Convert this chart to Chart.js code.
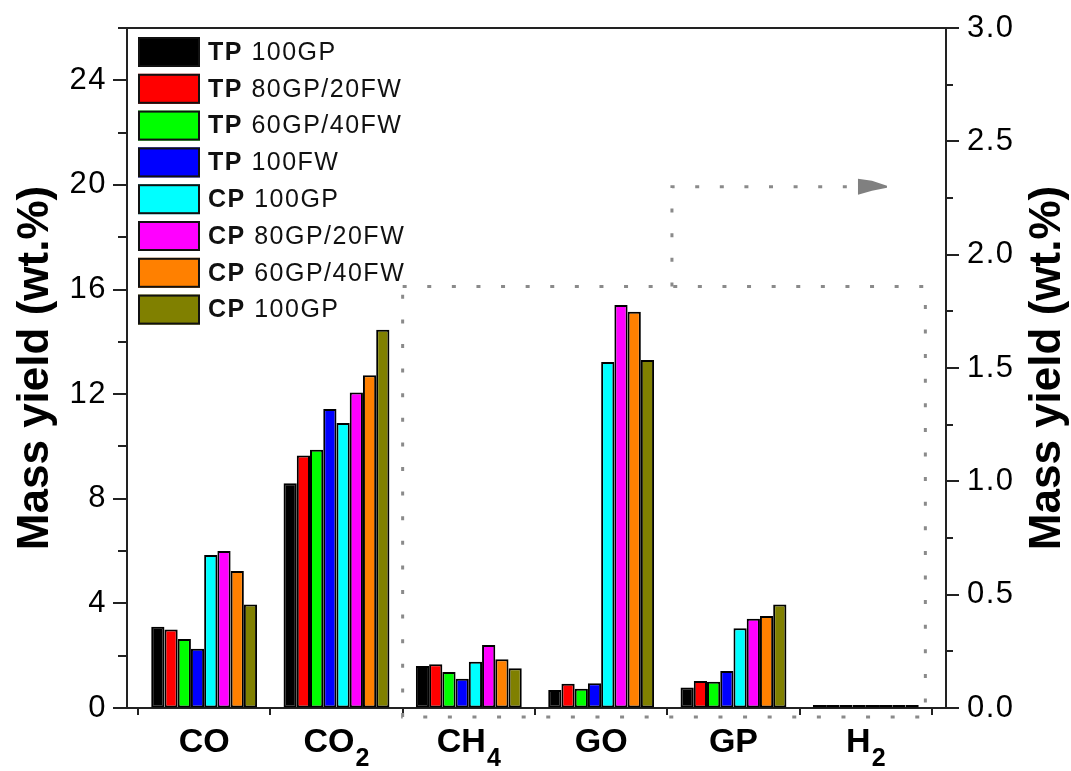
<!DOCTYPE html>
<html><head><meta charset="utf-8">
<script src="https://cdn.jsdelivr.net/npm/chart.js@4.4.1/dist/chart.umd.min.js"></script>
<style>html,body{margin:0;padding:0;background:#fff;}#wrap{width:1071px;height:771px;position:relative;}</style>
</head><body><div id="wrap"><canvas id="c"></canvas></div>
<script>
// ---- data ----
const categories = ['CO', 'CO₂', 'CH₄', 'GO', 'GP', 'H₂'];
const leftAxisCategories = [0, 1];          // plotted against left axis
const rightAxisCategories = [2, 3, 4, 5];   // plotted against right axis
const seriesPrefix = ['TP', 'TP', 'TP', 'TP', 'CP', 'CP', 'CP', 'CP'];
const seriesName = ['100GP', '80GP/20FW', '60GP/40FW', '100FW', '100GP', '80GP/20FW', '60GP/40FW', '100GP'];
const seriesColors = ['#000000', '#ff0000', '#00ff00', '#0000ff', '#00ffff', '#ff00ff', '#ff8000', '#808000'];
const CO  = [3.11, 3.00, 2.64, 2.27, 5.85, 6.00, 5.24, 3.96];
const CO2 = [8.59, 9.65, 9.87, 11.43, 10.90, 12.06, 12.72, 14.46];
const CH4 = [0.185, 0.193, 0.159, 0.129, 0.204, 0.278, 0.215, 0.175];
const GO  = [0.079, 0.107, 0.085, 0.109, 1.526, 1.778, 1.748, 1.535];
const GP  = [0.090, 0.119, 0.116, 0.163, 0.352, 0.394, 0.406, 0.457];
const H2  = [0.013, 0.013, 0.013, 0.013, 0.013, 0.013, 0.013, 0.013];
const leftTickLabels = ['0', '4', '8', '12', '16', '20', '24'];
const rightTickLabels = ['0.0', '0.5', '1.0', '1.5', '2.0', '2.5', '3.0'];
const axisTitle = 'Mass yield (wt.%)';
// annotation (dotted box + arrow), in data coordinates (x: category units, y: right axis)
const boxX = [1.5, 5.45];
const boxTop = 1.86;
const arrowX = 3.535, arrowY = 2.30, arrowTipX = 5.16;

const X_MIN = -0.583, X_MAX = 5.606;
const FONT = '"Liberation Sans", Arial, sans-serif';
const AX = '#222';
const SUB = { '₀': '0', '₁': '1', '₂': '2', '₃': '3', '₄': '4', '₅': '5', '₆': '6', '₇': '7', '₈': '8', '₉': '9' };

const valuesByCategory = [CO, CO2, CH4, GO, GP, H2];
const datasets = [];
function makeSet(i, cats, axis) {
  return {
    label: seriesPrefix[i] + ' ' + seriesName[i],
    yAxisID: axis,
    backgroundColor: seriesColors[i],
    data: categories.map((c, k) => ({ x: k, y: cats.includes(k) ? valuesByCategory[k][i] : null }))
  };
}
for (let i = 0; i < 8; i++) datasets.push(makeSet(i, leftAxisCategories, 'y'));
for (let i = 0; i < 8; i++) datasets.push(makeSet(i, rightAxisCategories, 'y1'));

function hline(ctx, x0, y0, x1, y1) { ctx.beginPath(); ctx.moveTo(x0, y0); ctx.lineTo(x1, y1); ctx.stroke(); }

function drawCategoryLabel(ctx, label, cx, baseY) {
  const runs = [];
  for (const ch of label) {
    const sub = SUB[ch] !== undefined;
    const c = sub ? SUB[ch] : ch;
    if (runs.length && runs[runs.length - 1].sub === sub) runs[runs.length - 1].t += c;
    else runs.push({ t: c, sub });
  }
  const fMain = 'bold 34px ' + FONT, fSub = 'bold 25px ' + FONT;
  let total = 0;
  runs.forEach(r => { ctx.font = r.sub ? fSub : fMain; r.w = ctx.measureText(r.t).width + (r.sub ? 1 : 0); total += r.w; });
  let xx = cx - total / 2;
  ctx.textAlign = 'left'; ctx.textBaseline = 'alphabetic'; ctx.fillStyle = '#000';
  runs.forEach(r => {
    ctx.font = r.sub ? fSub : fMain;
    ctx.fillText(r.t, xx + (r.sub ? 1 : 0), r.sub ? baseY + 14 : baseY);
    xx += r.w;
  });
}

const decor = {
  id: 'decor',
  beforeDraw(chart) { chart.ctx.letterSpacing = '1.5px'; },
  afterDraw(chart) {
    const ctx = chart.ctx, ca = chart.chartArea;
    const x = chart.scales.x, yL = chart.scales.y, yR = chart.scales.y1;
    ctx.save();
    ctx.letterSpacing = '0px';
    ctx.strokeStyle = AX; ctx.lineWidth = 2; ctx.setLineDash([]);
    hline(ctx, ca.left - 1, ca.top, ca.right + 1, ca.top);
    yL.ticks.forEach(t => {
      const p = Math.round(yL.getPixelForValue(t.value));
      const major = leftTickLabels.includes(String(t.value));
      hline(ctx, ca.left - (major ? 14 : 9), p, ca.left, p);
    });
    yR.ticks.forEach(t => {
      const p = Math.round(yR.getPixelForValue(t.value));
      const major = Math.abs(t.value * 2 - Math.round(t.value * 2)) < 1e-6 && rightTickLabels.includes(t.value.toFixed(1));
      hline(ctx, ca.right, p, ca.right + (major ? 13 : 7), p);
    });
    categories.forEach((c, i) => drawCategoryLabel(ctx, c, x.getPixelForValue(i), ca.bottom + 44));
    const bx0 = x.getPixelForValue(boxX[0]), bx1 = x.getPixelForValue(boxX[1]);
    const by0 = yR.getPixelForValue(boxTop), by1 = yR.getPixelForValue(0) + 9;
    ctx.strokeStyle = '#8a8a8a'; ctx.lineWidth = 3; ctx.setLineDash([4, 20.6]);
    ctx.strokeRect(bx0, by0, bx1 - bx0, by1 - by0);
    const ax = x.getPixelForValue(arrowX), ay = yR.getPixelForValue(arrowY), tip = x.getPixelForValue(arrowTipX);
    ctx.beginPath(); ctx.moveTo(ax, by0); ctx.lineTo(ax, ay); ctx.lineTo(tip - 32, ay); ctx.stroke();
    ctx.setLineDash([]);
    ctx.fillStyle = '#808080';
    ctx.beginPath();
    ctx.moveTo(tip - 29, ay - 8); ctx.lineTo(tip - 15, ay - 6); ctx.lineTo(tip, ay - 1);
    ctx.lineTo(tip, ay + 1); ctx.lineTo(tip - 15, ay + 4); ctx.lineTo(tip - 29, ay + 8); ctx.closePath(); ctx.fill();
    const lx = ca.left + 11, ly = ca.top + 9, bw = 62, bh = 30, step = 36.8;
    ctx.letterSpacing = '1.5px';
    ctx.textBaseline = 'middle'; ctx.textAlign = 'left';
    for (let i = 0; i < 8; i++) {
      const y0 = ly + i * step;
      ctx.fillStyle = seriesColors[i];
      ctx.fillRect(lx, y0, bw, bh);
      ctx.strokeStyle = '#111'; ctx.lineWidth = 2;
      ctx.strokeRect(lx + 1, y0 + 1, bw - 2, bh - 2);
      ctx.fillStyle = '#111';
      ctx.font = 'bold 25px ' + FONT;
      const tx = lx + bw + 8, ty = y0 + bh / 2 + 1;
      ctx.fillText(seriesPrefix[i], tx, ty);
      const w = ctx.measureText(seriesPrefix[i] + ' ').width;
      ctx.font = '25px ' + FONT;
      ctx.fillText(seriesName[i], tx + w, ty);
    }
    ctx.letterSpacing = '0px';
    ctx.font = 'bold 44px ' + FONT; ctx.fillStyle = '#000';
    ctx.textAlign = 'center'; ctx.textBaseline = 'middle';
    [36, 1048].forEach(cx => {
      ctx.save(); ctx.translate(cx, (ca.top + ca.bottom) / 2); ctx.rotate(-Math.PI / 2);
      ctx.fillText(axisTitle, 0, 0); ctx.restore();
    });
    ctx.restore();
    ctx.letterSpacing = '0px';
  }
};

new Chart(document.getElementById('c'), {
  type: 'bar',
  data: { datasets },
  options: {
    responsive: true, maintainAspectRatio: false, animation: false,
    layout: { padding: { top: 28, left: 0, right: 0, bottom: 0 } },
    plugins: { legend: { display: false }, tooltip: { enabled: false } },
    datasets: { bar: { categoryPercentage: 0.8, barPercentage: 1.0, skipNull: true, borderSkipped: false, borderWidth: 2, borderColor: '#000' } },
    scales: {
      x: {
        type: 'linear', min: X_MIN, max: X_MAX, offset: false,
        afterBuildTicks: s => { s.ticks = categories.map((c, i) => ({ value: i })); },
        afterFit: s => { s.height = 63; },
        grid: { display: true, drawOnChartArea: false, offset: true, tickLength: 7, color: AX, lineWidth: 2 },
        border: { display: true, color: AX, width: 2 },
        ticks: { display: false, autoSkip: false, maxRotation: 0, minRotation: 0 }
      },
      y: {
        position: 'left', min: 0, max: 26,
        afterFit: s => { s.width = 127; },
        grid: { drawOnChartArea: false, tickLength: 14, color: 'rgba(0,0,0,0)' },
        border: { display: true, color: AX, width: 2 },
        ticks: { stepSize: 2, padding: 6, color: '#000', font: { family: FONT, size: 31 },
          callback: v => leftTickLabels.includes(String(v)) ? String(v) : '' }
      },
      y1: {
        position: 'right', min: 0, max: 3,
        afterFit: s => { s.width = 125; },
        grid: { drawOnChartArea: false, tickLength: 13, color: 'rgba(0,0,0,0)' },
        border: { display: true, color: AX, width: 2 },
        ticks: { stepSize: 0.25, padding: 8, color: '#000', font: { family: FONT, size: 31 },
          callback: v => (Math.abs(v * 2 - Math.round(v * 2)) < 1e-6 && rightTickLabels.includes(v.toFixed(1))) ? v.toFixed(1) : '' }
      }
    }
  },
  plugins: [decor]
});
</script></body></html>
